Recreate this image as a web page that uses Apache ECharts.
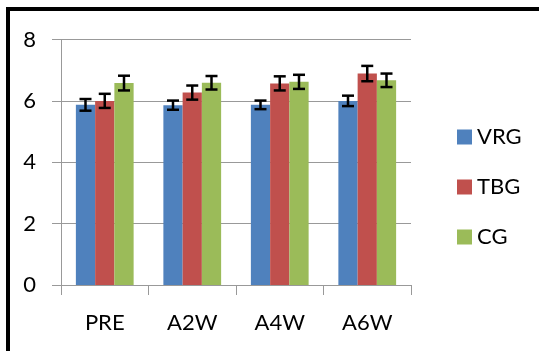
<!DOCTYPE html>
<html>
<head>
<meta charset="utf-8">
<script src="https://cdn.jsdelivr.net/npm/echarts@6/dist/echarts.min.js"></script>
<style>html,body{margin:0;padding:0;background:#fff;}#c{width:539px;height:351px;}</style>
</head>
<body>
<div id="c"></div>
<script>
const categories = ['PRE', 'A2W', 'A4W', 'A6W'];
const seriesNames = ['VRG', 'TBG', 'CG'];
const vrg = [5.87, 5.86, 5.87, 6.0];
const tbg = [6.0, 6.27, 6.57, 6.89];
const cg = [6.58, 6.59, 6.62, 6.67];
const vrgErr = [0.19, 0.15, 0.14, 0.17];
const tbgErr = [0.23, 0.23, 0.23, 0.25];
const cgErr = [0.24, 0.22, 0.23, 0.22];
const yTicks = [0, 2, 4, 6, 8];

const colors = ['#4F81BD', '#C0504D', '#9BBB59'];
const values = [vrg, tbg, cg];
const errs = [vrgErr, tbgErr, cgErr];
const CAT_GAP = 0.34;
const FONT = 'Lato';

const chart = echarts.init(document.getElementById('c'));

const barSeries = seriesNames.map((n, i) => ({
  name: n,
  type: 'bar',
  data: values[i],
  barGap: '0%',
  barCategoryGap: (CAT_GAP * 100) + '%',
  itemStyle: { color: colors[i] },
  emphasis: { disabled: true },
  z: 2
}));

const errSeries = seriesNames.map((n, si) => ({
  type: 'custom',
  name: n + '_err',
  z: 5,
  data: values[si].map((v, i) => [i, v, errs[si][i]]),
  encode: { x: 0, y: 1 },
  renderItem: function (params, api) {
    const ci = api.value(0), v = api.value(1), e = api.value(2);
    const xc = api.coord([ci, 0])[0];
    const catW = api.size([1, 0])[0];
    const barW = catW * (1 - CAT_GAP) / 3;
    const x = xc + (si - 1) * barW;
    const yt = api.coord([ci, v + e])[1];
    const yb = api.coord([ci, v - e])[1];
    const cap = 6;
    const st = { stroke: '#000', lineWidth: 2.5 };
    return {
      type: 'group',
      children: [
        { type: 'line', shape: { x1: x, y1: yt, x2: x, y2: yb }, style: st },
        { type: 'line', shape: { x1: x - cap, y1: yt, x2: x + cap, y2: yt }, style: st },
        { type: 'line', shape: { x1: x - cap, y1: yb, x2: x + cap, y2: yb }, style: st }
      ]
    };
  }
}));

chart.setOption({
  animation: false,
  backgroundColor: '#fff',
  textStyle: { fontFamily: FONT },
  grid: { left: 61, right: 128, top: 39.5, bottom: 66, containLabel: false },
  legend: {
    orient: 'vertical',
    left: 452,
    top: 121,
    itemWidth: 15,
    itemHeight: 15,
    itemGap: 28,
    icon: 'rect',
    data: seriesNames,
    textStyle: { fontFamily: FONT, fontSize: 22, color: '#000', lineHeight: 22, padding: [0, 0, 0, 0] },
    selectedMode: false
  },
  xAxis: {
    type: 'category',
    data: categories,
    axisLine: { show: true, lineStyle: { color: '#999', width: 1 } },
    axisTick: { show: true, length: 10, lineStyle: { color: '#999' } },
    axisLabel: { fontFamily: FONT, fontSize: 22, color: '#000', margin: 27 }
  },
  yAxis: {
    type: 'value',
    min: yTicks[0],
    max: yTicks[yTicks.length - 1],
    interval: yTicks[1] - yTicks[0],
    axisLine: { show: true, lineStyle: { color: '#999', width: 1 } },
    axisTick: { show: true, length: 9, lineStyle: { color: '#999' } },
    splitLine: { show: true, lineStyle: { color: '#999', width: 1 } },
    axisLabel: { fontFamily: FONT, fontSize: 22, color: '#000', margin: 25 }
  },
  graphic: [{
    type: 'polyline',
    shape: { points: [[8, 351], [8, 9], [539, 9]] },
    style: { stroke: '#000', lineWidth: 4, fill: null },
    z: 100
  }],
  series: barSeries.concat(errSeries)
});
</script>
</body>
</html>
